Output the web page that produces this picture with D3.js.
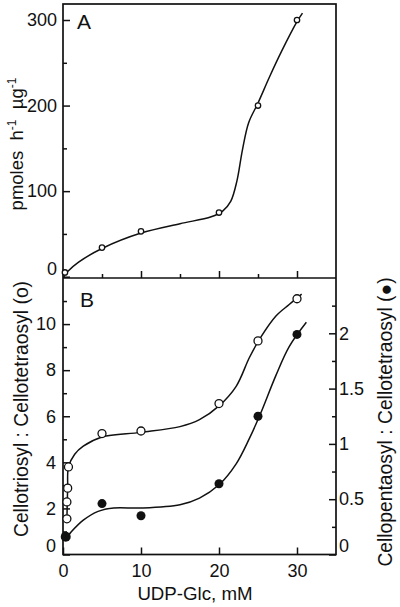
<!DOCTYPE html>
<html><head><meta charset="utf-8">
<script src="https://cdn.jsdelivr.net/npm/d3@7"></script>
<style>
body{margin:0;background:#fff;}
svg text{font-family:"Liberation Sans",Arial,sans-serif;fill:#111;}
</style></head>
<body><svg id="c" width="400" height="607"></svg>
<script>
// ---- Data ----
// Panel A: activity (pmoles h-1 ug-1) vs UDP-Glc (mM)
const aX = [0.25, 5, 10, 20, 25, 30];
const aY = [5, 34, 53, 75, 200, 300];
// Panel A fitted curve (hand-traced)
const aCurveX = [0.1, 0.6, 2, 5, 10, 15, 19, 20.5, 21.5, 22.3, 23, 23.8, 25, 26.5, 28, 30, 30.7];
const aCurveY = [0, 6, 17, 33, 51, 62, 70, 77, 88, 112, 148, 180, 203, 234, 263, 298, 308];
// Panel B: open circles, Cellotriosyl:Cellotetraosyl (left axis)
const bOpenX = [0.5, 0.5, 0.6, 0.7, 5, 10, 20, 25, 30];
const bOpenY = [1.55, 2.28, 2.88, 3.8, 5.25, 5.36, 6.55, 9.27, 11.1];
const bOpenCurveX = [0.5, 0.55, 0.6, 0.7, 1.5, 2.6, 5, 10, 15, 17.5, 20, 22.2, 23.9, 25.3, 27.3, 29, 30.6];
const bOpenCurveY = [1.5, 2.3, 2.9, 3.8, 4.35, 4.7, 5.1, 5.3, 5.55, 5.85, 6.45, 7.3, 8.55, 9.4, 10.35, 10.85, 11.3];
// Panel B: filled circles, Cellopentaosyl:Cellotetraosyl (right axis)
const bFillX = [0.35, 5, 10, 20, 25, 30];
const bFillY = [0.16, 0.46, 0.35, 0.64, 1.25, 1.99];
const bFillCurveX = [0.3, 1, 2.6, 4.5, 6.5, 10, 15, 17.5, 20, 22.2, 23.9, 25.3, 27.3, 29, 31.2];
const bFillCurveY = [0.14, 0.2, 0.31, 0.39, 0.42, 0.42, 0.45, 0.51, 0.63, 0.82, 1.05, 1.27, 1.62, 1.88, 2.1];
// Ticks
const xMajor = [0, 10, 20, 30];
const xMinorA = [5, 15, 25];
const aTicks = [0, 100, 200, 300];
const aMinor = [50, 150, 250];
const bLeftTicks = [0, 2, 4, 6, 8, 10];
const bLeftMinor = [1, 3, 5, 7, 9, 11];
const bRightTicks = [0, 0.5, 1, 1.5, 2];
const bRightMinor = [0.25, 0.75, 1.25, 1.75, 2.25];

const svg = d3.select("#c");
const L = 63, R = 336, AT = 4, MID = 278, BB = 554.5;
const x = d3.scaleLinear([0, 35], [L, R]);
const yA = d3.scaleLinear([-1.5, 318.7], [MID, AT]);
const yB = d3.scaleLinear([0, 12], [BB, MID]);
const yR = d3.scaleLinear([0, 2.5], [BB, MID]);
const FS = 18;

function styleAxis(g, noLabels){
  g.select(".domain").remove();
  g.selectAll(".tick line").attr("stroke", "#111").attr("stroke-width", 1.5);
  g.selectAll(".tick text").attr("font-size", FS).attr("font-family", null).attr("fill", "#111");
  if (noLabels) g.selectAll(".tick text").remove();
  g.selectAll(".tick").filter(d => d === 0).select("text").attr("dy", "-0.15em");
}
// Panel A axes
svg.append("g").attr("transform", `translate(${L},0)`)
  .call(d3.axisLeft(yA).tickValues(aTicks).tickSize(-7).tickPadding(6).tickFormat(d3.format("d")))
  .call(g => styleAxis(g));
svg.append("g").attr("transform", `translate(${L},0)`)
  .call(d3.axisLeft(yA).tickValues(aMinor).tickSize(-4)).call(g => styleAxis(g, true));
svg.append("g").attr("transform", `translate(0,${MID})`)
  .call(d3.axisBottom(x).tickValues(xMajor.slice(1)).tickSize(-7)).call(g => styleAxis(g, true));
svg.append("g").attr("transform", `translate(0,${MID})`)
  .call(d3.axisBottom(x).tickValues(xMinorA).tickSize(-4)).call(g => styleAxis(g, true));
// Panel B axes
svg.append("g").attr("transform", `translate(${L},0)`)
  .call(d3.axisLeft(yB).tickValues(bLeftTicks).tickSize(-7).tickPadding(7).tickFormat(d3.format("d")))
  .call(g => styleAxis(g));
svg.append("g").attr("transform", `translate(${L},0)`)
  .call(d3.axisLeft(yB).tickValues(bLeftMinor).tickSize(-4)).call(g => styleAxis(g, true));
svg.append("g").attr("transform", `translate(${R},0)`)
  .call(d3.axisRight(yR).tickValues(bRightTicks).tickSize(-7).tickPadding(3).tickFormat(d => d3.format("")(d)))
  .call(g => styleAxis(g));
svg.append("g").attr("transform", `translate(${R},0)`)
  .call(d3.axisRight(yR).tickValues(bRightMinor).tickSize(-4)).call(g => styleAxis(g, true));
svg.append("g").attr("transform", `translate(0,${BB})`)
  .call(d3.axisBottom(x).tickValues(xMajor).tickSize(-7).tickPadding(4).tickFormat(d3.format("d")))
  .call(g => { styleAxis(g); g.selectAll(".tick text").attr("dy", "0.71em").attr("y", 10); });

// Frames
svg.append("rect").attr("x", L).attr("y", AT).attr("width", R - L).attr("height", BB - AT)
  .attr("fill", "none").attr("stroke", "#111").attr("stroke-width", 1.7);
svg.append("line").attr("x1", L).attr("x2", R).attr("y1", MID).attr("y2", MID)
  .attr("stroke", "#111").attr("stroke-width", 1.7);

// Curves
const curveLine = (ys) => d3.line().x(d => x(d[0])).y(d => ys(d[1])).curve(d3.curveCatmullRom.alpha(0.5));
const pathStyle = p => p.attr("fill", "none").attr("stroke", "#111").attr("stroke-width", 1.5);
svg.append("path").datum(d3.zip(aCurveX, aCurveY)).attr("d", curveLine(yA)).call(pathStyle);
svg.append("path").datum(d3.zip(bOpenCurveX, bOpenCurveY)).attr("d", curveLine(yB)).call(pathStyle);
svg.append("path").datum(d3.zip(bFillCurveX, bFillCurveY)).attr("d", curveLine(yR)).call(pathStyle);

// Points
svg.append("g").selectAll("circle").data(d3.zip(aX, aY)).join("circle")
  .attr("cx", d => x(d[0])).attr("cy", d => yA(d[1])).attr("r", 2.7)
  .attr("fill", "#fff").attr("stroke", "#111").attr("stroke-width", 1.3);
svg.append("g").selectAll("circle").data(d3.zip(bFillX, bFillY)).join("circle")
  .attr("cx", d => x(d[0])).attr("cy", d => yR(d[1])).attr("r", (d, i) => i === 0 ? 5 : 4.5)
  .attr("fill", "#111");
svg.append("g").selectAll("circle").data(d3.zip(bOpenX, bOpenY)).join("circle")
  .attr("cx", d => x(d[0])).attr("cy", d => yB(d[1])).attr("r", 4)
  .attr("fill", "#fff").attr("stroke", "#111").attr("stroke-width", 1.3);

// Panel letters
svg.append("text").attr("x", 77).attr("y", 29).attr("font-size", 21).text("A");
svg.append("text").attr("x", 80).attr("y", 307).attr("font-size", 21).text("B");

// Axis titles
svg.append("text").attr("x", 195).attr("y", 600).attr("text-anchor", "middle").attr("font-size", 18.7).text("UDP-Glc, mM");
const tA = svg.append("text").attr("transform", "translate(23,144) rotate(-90)").attr("text-anchor", "middle")
  .attr("font-size", 18.5).style("white-space", "pre");
tA.append("tspan").text("pmoles  h");
tA.append("tspan").attr("dy", -7).attr("font-size", 12).text("-1");
tA.append("tspan").attr("dy", 7).text("  µg");
tA.append("tspan").attr("dy", -7).attr("font-size", 12).text("-1");
svg.append("text").attr("transform", "translate(28,409) rotate(-90)").attr("text-anchor", "middle")
  .attr("font-size", 19.3).text("Cellotriosyl : Cellotetraosyl (o)");
svg.append("text").attr("transform", "translate(392,422) rotate(-90)").attr("text-anchor", "middle")
  .attr("font-size", 19.3).text("Cellopentaosyl : Cellotetraosyl (●)");
</script></body></html>
